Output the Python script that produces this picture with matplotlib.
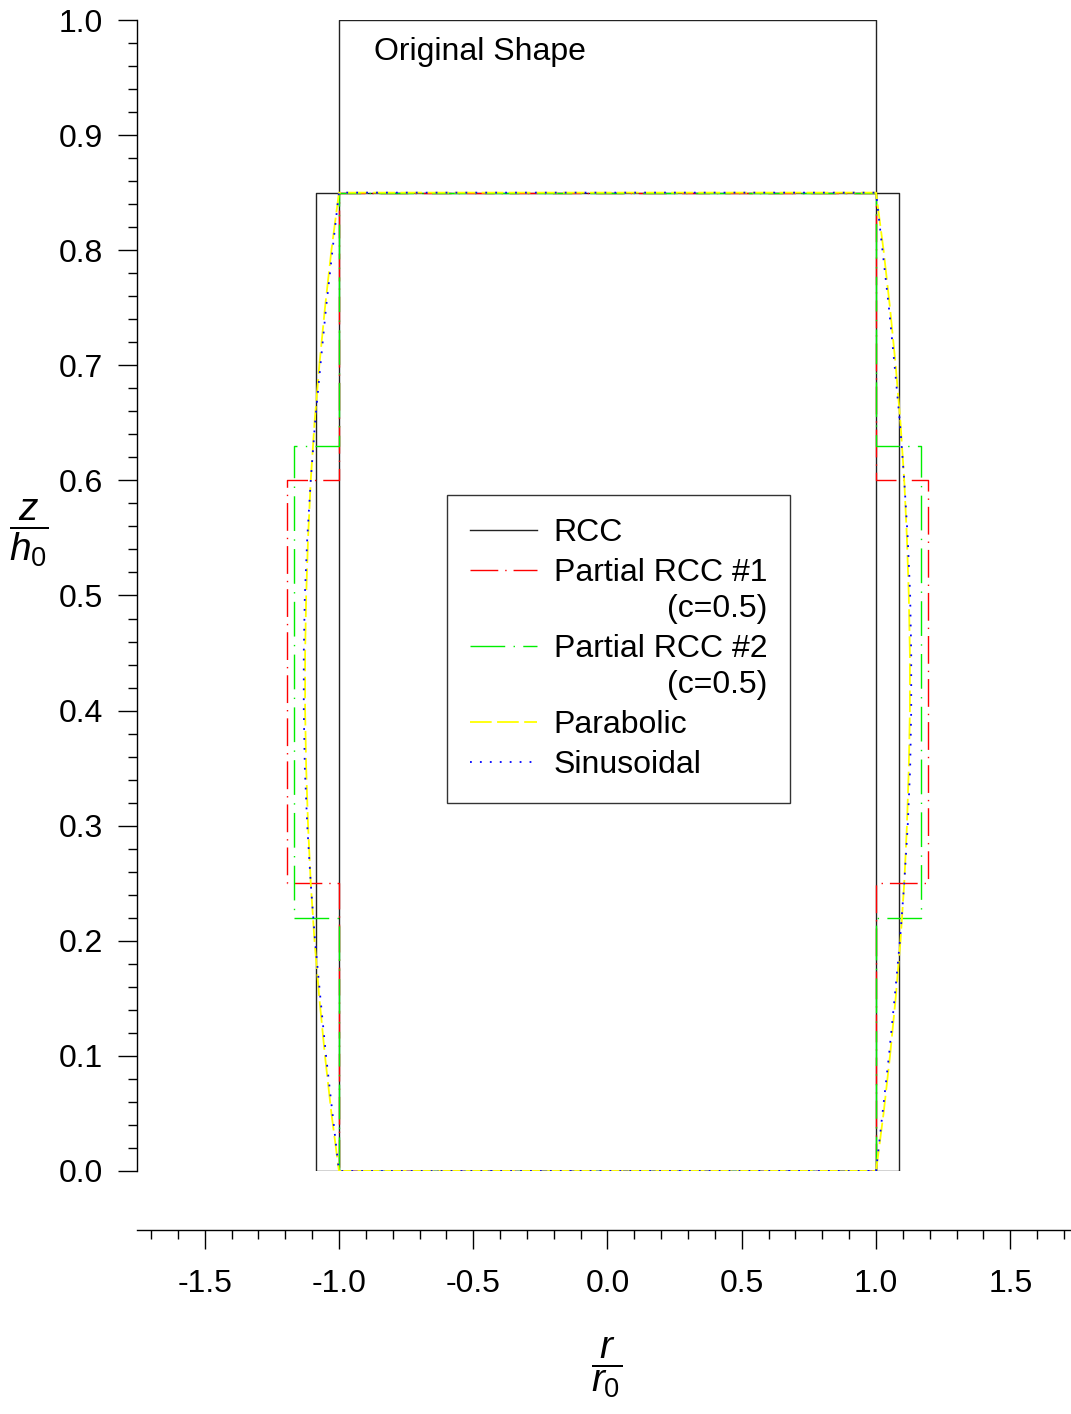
import numpy as np
import matplotlib
matplotlib.use("Agg")
import matplotlib.pyplot as plt
from matplotlib.ticker import MultipleLocator, FormatStrFormatter
from matplotlib.legend_handler import HandlerLine2D

plt.rcParams['font.family'] = ['Liberation Sans', 'DejaVu Sans']
plt.rcParams['axes.unicode_minus'] = False
plt.rcParams['mathtext.fontset'] = 'custom'
plt.rcParams['mathtext.it'] = 'Liberation Sans:italic'
plt.rcParams['mathtext.rm'] = 'Liberation Sans'

FS = 23

# -------------------- DATA --------------------
# outlines, right half only (r >= 0), z from bottom to top

orig_r = [1.0, 1.0]
orig_z = [0.0, 1.0]

rcc_r = [1.0847, 1.0847]
rcc_z = [0.0, 0.85]

prcc1_r = [1.0, 1.0, 1.195, 1.195, 1.0, 1.0]
prcc1_z = [0.0, 0.25, 0.25, 0.60, 0.60, 0.85]

prcc2_r = [1.0, 1.0, 1.169, 1.169, 1.0, 1.0]
prcc2_z = [0.0, 0.22, 0.22, 0.63, 0.63, 0.85]

curve_z = [0.0, 0.05, 0.10, 0.15, 0.20, 0.25, 0.30, 0.35, 0.40,
           0.45, 0.50, 0.55, 0.60, 0.65, 0.70, 0.75, 0.80, 0.85]
parab_r = [1.000, 1.028, 1.052, 1.073, 1.091, 1.105, 1.115, 1.122, 1.126,
           1.126, 1.122, 1.115, 1.105, 1.091, 1.073, 1.052, 1.028, 1.000]
sinus_r = [1.000, 1.024, 1.048, 1.069, 1.089, 1.105, 1.118, 1.127, 1.131,
           1.131, 1.127, 1.118, 1.105, 1.089, 1.069, 1.048, 1.024, 1.000]


def closed(r, z):
    # mirror the right half onto the left and close the outline
    r = np.asarray(r, float)
    z = np.asarray(z, float)
    xs = np.concatenate([r, -r[::-1], r[:1]])
    zs = np.concatenate([z, z[::-1], z[:1]])
    return xs, zs


class TopLineHandler(HandlerLine2D):
    # put the sample line next to the first line of a two-line label
    def __init__(self, shift, **kw):
        super().__init__(**kw)
        self.shift = shift

    def create_artists(self, legend, orig_handle, xdescent, ydescent,
                       width, height, fontsize, trans):
        arts = super().create_artists(legend, orig_handle, xdescent, ydescent,
                                      width, height, fontsize, trans)
        for a in arts:
            a.set_ydata(np.asarray(a.get_ydata()) + self.shift)
        return arts


# -------------------- PLOT --------------------

W, H = 1071, 1414
fig = plt.figure(figsize=(W / 100, H / 100), dpi=100)
ax = fig.add_axes([137 / W, 1 - 1171 / H, (W - 137) / W, (1171 - 20) / H])

ax.plot(*closed(orig_r, orig_z), color='#222222', lw=1.0)
h_rcc, = ax.plot(*closed(rcc_r, rcc_z), color='#222222', lw=1.0, label='RCC')
h_p1, = ax.plot(*closed(prcc1_r, prcc1_z), color='#ff0000', lw=1.0,
                dashes=(20, 5, 1, 5), label='Partial RCC #1\n(c=0.5)')
h_p2, = ax.plot(*closed(prcc2_r, prcc2_z), color='#00ee00', lw=1.0,
                dashes=(25, 6, 1, 6), label='Partial RCC #2\n(c=0.5)')
h_pa, = ax.plot(*closed(parab_r, curve_z), color='#ffff00', lw=1.3,
                dashes=(12, 3), label='Parabolic')
h_si, = ax.plot(*closed(sinus_r, curve_z), color='#0000ff', lw=1.3,
                dashes=(1, 4.5), label='Sinusoidal')

ax.text(-0.87, 0.972, 'Original Shape', fontsize=FS, ha='left', va='center')

ax.set_xlim(-1.752, 1.726)
ax.set_ylim(0.0, 1.0)

for s in ['top', 'right']:
    ax.spines[s].set_visible(False)
ax.spines['bottom'].set_position(('outward', 42.5))
ax.spines['left'].set_linewidth(1.0)
ax.spines['bottom'].set_linewidth(1.0)

ax.xaxis.set_major_locator(MultipleLocator(0.5))
ax.xaxis.set_minor_locator(MultipleLocator(0.1))
ax.yaxis.set_major_locator(MultipleLocator(0.1))
ax.yaxis.set_minor_locator(MultipleLocator(0.02))
ax.xaxis.set_major_formatter(FormatStrFormatter('%.1f'))
ax.yaxis.set_major_formatter(FormatStrFormatter('%.1f'))

ax.tick_params(which='both', direction='out', width=1.0, labelsize=FS)
ax.tick_params(which='major', length=13.7)
ax.tick_params(which='minor', length=6.8)
ax.tick_params(axis='x', which='major', pad=14)
ax.tick_params(axis='y', which='major', pad=11)

shift = 15.5
leg = ax.legend(handles=[h_rcc, h_p1, h_p2, h_pa, h_si],
                handler_map={h_p1: TopLineHandler(shift), h_p2: TopLineHandler(shift)},
                loc='upper left',
                bbox_to_anchor=((447 - 137) / (W - 137), (1171 - 495) / 1151),
                fontsize=FS, frameon=True, fancybox=False, shadow=False,
                handlelength=2.1, handletextpad=0.52, labelspacing=0.32,
                borderpad=0.72, borderaxespad=0.0)
leg.get_frame().set_edgecolor('black')
leg.get_frame().set_linewidth(1.0)
for t in leg.get_texts():
    t.set_multialignment('right')
    t.set_linespacing(1.25)

# fraction-style axis labels
fig.text(29 / W, 1 - 533 / H, r'$\dfrac{z}{h_{\mathit{0}}}$', fontsize=28,
         ha='center', va='center')
fig.text(607 / W, 1 - 1368 / H, r'$\dfrac{r}{r_{\mathit{0}}}$', fontsize=28,
         ha='center', va='center')

fig.savefig('out.png', dpi=100)
